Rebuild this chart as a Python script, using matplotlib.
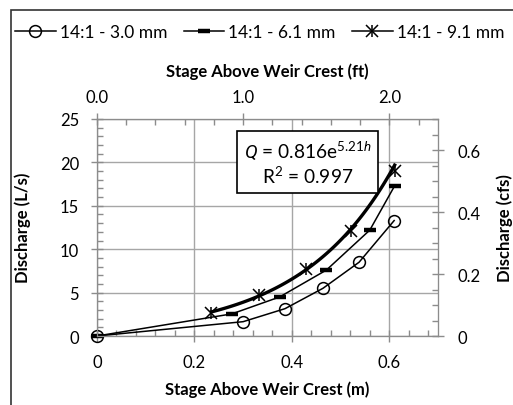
import matplotlib
matplotlib.use("Agg")
import matplotlib.pyplot as plt
import numpy as np
from matplotlib.ticker import MultipleLocator, FixedLocator
from matplotlib.patches import Rectangle
from matplotlib.lines import Line2D

plt.rcParams['font.family'] = ['Lato', 'DejaVu Sans']
plt.rcParams['mathtext.fontset'] = 'custom'
plt.rcParams['mathtext.rm'] = 'Lato'
plt.rcParams['mathtext.it'] = 'Roboto:italic'

# Data (stage m, discharge L/s)
h_30 = [0.0, 0.30, 0.386, 0.464, 0.538, 0.610]
q_30 = [0.0, 1.65, 3.15, 5.5, 8.5, 13.3]
h_61 = [0.0, 0.277, 0.375, 0.471, 0.560, 0.611]
q_61 = [0.0, 2.55, 4.5, 7.6, 12.2, 17.3]
h_91 = [0.235, 0.332, 0.429, 0.522, 0.611]
q_91 = [2.6, 4.7, 7.7, 12.1, 19.0]
labels = ["14:1 - 3.0 mm", "14:1 - 6.1 mm", "14:1 - 9.1 mm"]
fit_a, fit_b = 0.816, 5.21

fig = plt.figure(figsize=(5.13, 4.06), dpi=100)
W, H = 513, 406
L, R, T, B = 97, 438, 120, 337
ax = fig.add_axes([L / W, 1 - B / H, (R - L) / W, (B - T) / H])

gray = '#8c8c8c'
grid = '#a6a6a6'
fs = 12

ax.set_xlim(0, 0.7)
ax.set_ylim(0, 25)
ax.xaxis.set_major_locator(FixedLocator([0, 0.2, 0.4, 0.6]))
ax.xaxis.set_minor_locator(MultipleLocator(0.04))
ax.yaxis.set_major_locator(MultipleLocator(5))
ax.yaxis.set_minor_locator(MultipleLocator(1))
ax.set_xticklabels(["0", "0.2", "0.4", "0.6"])
ax.grid(True, which='major', color=grid, lw=1.0)
ax.set_axisbelow(True)

lw = 1.1
ax.plot(h_30, q_30, color='black', lw=lw, marker='o', ms=8.5, mfc='none',
        mec='black', mew=1.1, zorder=3, clip_on=False)
ax.plot(h_61, q_61, color='black', lw=lw, marker='_', ms=9, mew=3.2,
        zorder=3, clip_on=False)
ax.plot(h_91, q_91, color='black', lw=0, marker='x', ms=8, mew=1.1, zorder=3)
ax.plot(h_91, q_91, color='black', lw=0, marker='|', ms=9, mew=1.1, zorder=3)
hh = np.linspace(h_91[0], h_91[-1], 100)
ax.plot(hh, fit_a * np.exp(fit_b * hh), color='black', lw=2.4, zorder=2)

ax.text(0.432, 20.0, "$Q$ = 0.816e$^{5.21h}$\nR$^2$ = 0.997", ha='center', va='center',
        fontsize=13.8, linespacing=1.2,
        bbox=dict(boxstyle='square,pad=0.35', fc='white', ec='black', lw=1.2), zorder=5)

for s in ax.spines.values():
    s.set_color(gray)
ax.tick_params(which='major', direction='inout', length=8, color=gray, labelsize=fs, width=1)
ax.tick_params(axis='y', which='major', pad=9)
ax.tick_params(axis='x', which='major', pad=9)
ax.tick_params(which='minor', direction='in', length=4, color=gray, width=1)

ax2 = ax.twinx()
ax2.set_ylim(0, 0.7)
ax2.yaxis.set_major_locator(FixedLocator([0, 0.2, 0.4, 0.6]))
ax2.yaxis.set_minor_locator(MultipleLocator(0.05))
ax2.set_yticklabels(["0", "0.2", "0.4", "0.6"])
ax2.tick_params(which='major', direction='inout', length=8, color=gray, labelsize=fs, width=1, pad=10)
ax2.tick_params(which='minor', direction='in', length=4, color=gray, width=1)

ax3 = ax.twiny()
ax3.set_xlim(0, 0.7 / 0.6 * 2.0)
ax3.xaxis.set_major_locator(FixedLocator([0, 1, 2]))
ax3.xaxis.set_minor_locator(MultipleLocator(0.2))
ax3.set_xticklabels(["0.0", "1.0", "2.0"])
ax3.tick_params(which='major', direction='inout', length=8, color=gray, labelsize=fs, width=1, pad=6)
ax3.tick_params(which='minor', direction='in', length=4, color=gray, width=1)
for a in (ax2, ax3):
    for s in a.spines.values():
        s.set_color(gray)

fig.text(267 / W, 1 - 390 / H, "Stage Above Weir Crest (m)", fontsize=fs, fontweight='bold',
         ha='center', va='center')
fig.text(267 / W, 1 - 72 / H, "Stage Above Weir Crest (ft)", fontsize=fs, fontweight='bold',
         ha='center', va='center')
fig.text(23 / W, 1 - 228 / H, "Discharge (L/s)", fontsize=fs, fontweight='bold',
         ha='center', va='center', rotation=90)
fig.text(505 / W, 1 - 228 / H, "Discharge (cfs)", fontsize=fs, fontweight='bold',
         ha='center', va='center', rotation=90)

h1 = Line2D([], [], color='black', lw=lw, marker='o', ms=8.5, mfc='none', mew=1.1)
h2 = Line2D([], [], color='black', lw=lw, marker='_', ms=9, mew=3.2)
h3a = Line2D([], [], color='black', lw=lw, marker='x', ms=8, mew=1.1)
h3b = Line2D([], [], color='black', lw=0, marker='|', ms=9, mew=1.1)
fig.legend([h1, h2, (h3a, h3b)], labels, loc='center left',
           bbox_to_anchor=(15 / W, 1 - 33 / H), ncol=3,
           frameon=False, fontsize=12.5, handlelength=2.35, handletextpad=0.22,
           columnspacing=0.95, borderaxespad=0, borderpad=0)

fig.add_artist(Rectangle((10.5 / W, -0.1), 1.2, 1 - 10.5 / H + 0.1, transform=fig.transFigure,
                         fill=False, ec='#333333', lw=1.2))

fig.savefig("out.png", dpi=100)
